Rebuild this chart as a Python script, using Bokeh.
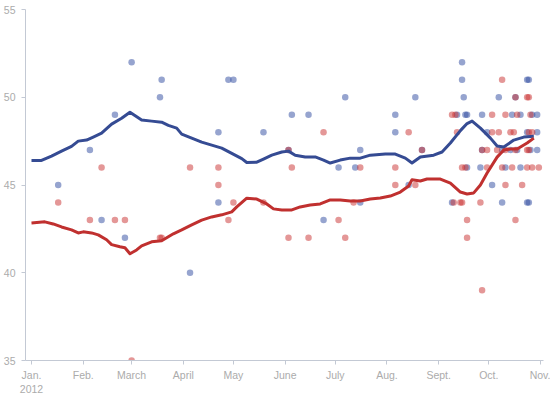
from bokeh.plotting import figure
from bokeh.models import FixedTicker, Range1d
from bokeh.embed import file_html
from bokeh.resources import INLINE

# Days counted from Jan. 1, 2012
month_ticks = [0, 31, 60, 91, 121, 152, 182, 213, 244, 274, 305]
month_labels = ["Jan.\n2012", "Feb.", "March", "April", "May", "June", "July", "Aug.", "Sept.", "Oct.", "Nov."]
y_ticks = [35, 40, 45, 50, 55]

# Poll averages
blue_day = [0, 6, 12, 18, 24, 28, 33, 37, 42, 48, 54, 59, 66, 72, 78, 82, 87, 90, 96, 102,
            108, 114, 120, 126, 129, 135, 139, 144, 150, 154, 158, 164, 170, 175, 179, 185, 191, 197, 203, 212,
            218, 224, 228, 233, 241, 246, 251, 257, 261, 264, 269, 275, 279, 283, 289, 295, 301]
blue_val = [46.4, 46.4, 46.65, 46.93, 47.2, 47.5, 47.56, 47.73, 47.95, 48.47, 48.8, 49.15, 48.7, 48.64, 48.58, 48.4, 48.24, 47.9, 47.67, 47.44,
            47.27, 47.1, 46.8, 46.5, 46.28, 46.3, 46.48, 46.7, 46.88, 46.93, 46.7, 46.6, 46.6, 46.42, 46.25, 46.42, 46.53, 46.53, 46.7, 46.76,
            46.76, 46.53, 46.25, 46.6, 46.7, 46.88, 47.39, 48.1, 48.5, 48.64, 48.24, 47.67, 47.22, 47.16, 47.56, 47.73, 47.78]

red_day = [0, 8, 13, 18, 24, 28, 31, 36, 40, 45, 48, 53, 56, 59, 63, 66, 72, 78, 81, 85,
           90, 96, 102, 108, 114, 120, 123, 129, 135, 141, 145, 150, 156, 161, 167, 173, 179, 185, 191, 197,
           203, 209, 215, 221, 226, 228, 233, 237, 245, 251, 257, 261, 265, 269, 273, 279, 283, 287, 291, 297, 301]
red_val = [42.84, 42.9, 42.78, 42.61, 42.44, 42.27, 42.33, 42.27, 42.16, 41.88, 41.6, 41.48, 41.42, 41.08, 41.3, 41.53, 41.76, 41.82, 41.99, 42.22,
           42.44, 42.73, 43.0, 43.18, 43.3, 43.47, 43.75, 44.25, 44.2, 43.92, 43.64, 43.58, 43.58, 43.75, 43.86, 43.92, 44.15, 44.15, 44.09, 44.09,
           44.2, 44.26, 44.37, 44.6, 44.94, 45.3, 45.23, 45.34, 45.34, 45.11, 44.6, 44.49, 44.55, 45.0, 45.68, 46.59, 46.99, 47.05, 47.05, 47.39, 47.67]

# Individual polls
blue_poll_day = [16, 35, 42, 50, 56, 60, 77, 78, 95, 112, 112, 118, 121, 139, 154, 156, 166, 175, 184, 188,
                 194, 197, 197, 218, 218, 226, 230, 234,
                 252, 255, 258, 258, 259, 260, 261, 261, 269, 270, 270, 273, 276, 280, 282, 282, 284, 287, 288, 290,
                 291, 293, 293, 297, 297, 297, 298, 298, 299, 300, 303, 303, 303]
blue_poll_val = [45, 47, 43, 49, 42, 52, 50, 51, 40, 48, 44, 51, 51, 48, 47, 49, 49, 43, 46, 50,
                 46, 44, 47, 49, 48, 45, 50, 47,
                 44, 49, 52, 51, 50, 49, 49, 46, 46, 49, 47, 48, 45, 50, 44, 47, 46, 47, 49, 50,
                 47, 49, 46, 51, 48, 44, 51, 44, 47, 49, 49, 48, 47]

red_poll_day = [16, 35, 42, 50, 56, 60, 77, 78, 95, 112, 112, 118, 121, 139, 154, 154, 156, 166, 175, 184,
                188, 193, 197, 218, 218, 226, 230, 234,
                252, 253, 254, 255, 257, 258, 258, 260, 261, 261, 269, 270, 270, 273, 273, 276, 276, 279, 280, 282,
                282, 284, 284, 284, 287, 288, 289, 290, 290, 290, 291, 294, 297, 297, 297, 298, 298, 298, 299, 300,
                300, 304]
red_poll_val = [44, 43, 46, 43, 43, 35, 42, 42, 46, 46, 45, 43, 44, 44, 47, 42, 46, 42, 48, 43,
                42, 44, 46, 45, 46, 48, 45, 47,
                49, 44, 49, 48, 44, 46, 44, 46, 43, 42, 44, 47, 39, 47, 46, 49, 48, 47, 48, 51,
                46, 49, 47, 45, 48, 46, 48, 50, 47, 43, 49, 45, 50, 47, 46, 48, 47, 50, 49, 48,
                46, 46]

BLUE_LINE = "#354b93"
RED_LINE = "#c0302f"
FONT = "Liberation Sans"
AXIS_COLOR = "#c3c9d4"
LABEL_COLOR = "#ababab"

p = figure(width=550, height=397, output_backend="svg", toolbar_location=None,
           x_range=Range1d(-3.59, 306.8), y_range=Range1d(35, 55),
           min_border_top=9, min_border_bottom=36, min_border_left=24, min_border_right=7)
p.outline_line_color = None
p.grid.grid_line_color = None
p.background_fill_color = "white"
p.border_fill_color = "white"

p.scatter(blue_poll_day, blue_poll_val, size=6.5, fill_color="#2d4a9f", fill_alpha=0.5, line_color=None)
p.scatter(red_poll_day, red_poll_val, size=6.5, fill_color="#c93030", fill_alpha=0.5, line_color=None)

p.line(blue_day, blue_val, line_color=BLUE_LINE, line_width=3, line_join="round")
p.line(red_day, red_val, line_color=RED_LINE, line_width=3, line_join="round")

for ax in (p.xaxis[0], p.yaxis[0]):
    ax.axis_line_color = AXIS_COLOR
    ax.major_tick_line_color = AXIS_COLOR
    ax.minor_tick_line_color = None
    ax.major_tick_in = 0
    ax.major_tick_out = 4
    ax.major_label_text_font = FONT
    ax.major_label_text_font_size = "10.5px"
    ax.major_label_text_color = LABEL_COLOR

p.xaxis.ticker = FixedTicker(ticks=month_ticks)
p.xaxis.major_label_overrides = {t: l for t, l in zip(month_ticks, month_labels)}
p.xaxis.major_label_standoff = 4
p.yaxis.ticker = FixedTicker(ticks=y_ticks)
p.yaxis.major_label_standoff = 6

open("out.html", "w").write(file_html(p, INLINE))
